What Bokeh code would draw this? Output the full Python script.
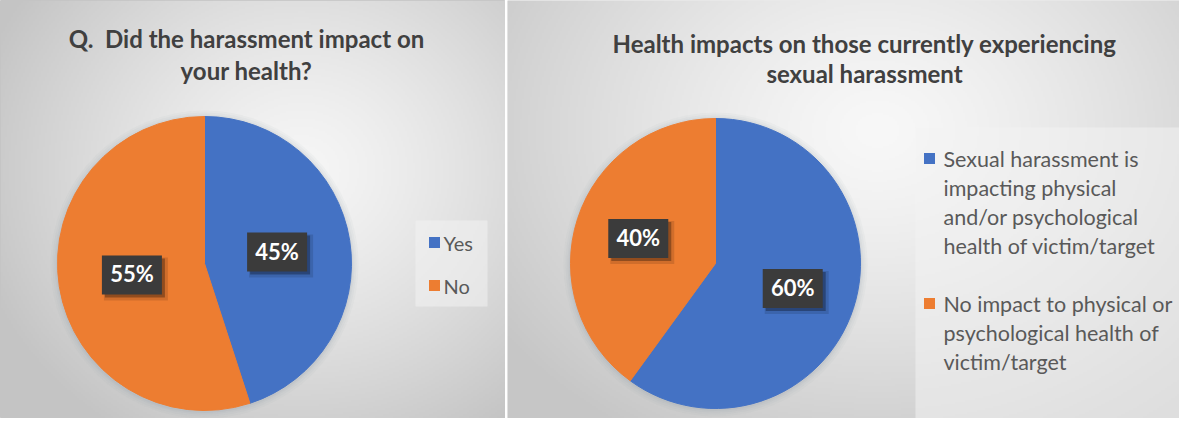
import numpy as np
from bokeh.plotting import figure
from bokeh.layouts import row
from bokeh.models import Range1d, ColumnDataSource
from bokeh.core.properties import value
from bokeh.embed import file_html
from bokeh.resources import INLINE

# ---------------- data ----------------
left_title = ["Q.\u00a0 Did the harassment impact on", "your health?"]
left_categories = ["Yes", "No"]
left_values = [45, 55]

right_title = ["Health impacts on those currently experiencing", "sexual harassment"]
right_categories = [
    ["Sexual harassment is", "impacting physical", "and/or psychological", "health of victim/target"],
    ["No impact to physical or", "psychological health of", "victim/target"],
]
right_values = [60, 40]

slice_colors = ["#4472C4", "#ED7D31"]

# ---------------- layout ----------------
H = 418
W1 = 505
GAP = 2
W2 = 672
X2 = W1 + GAP          # page x where right panel starts
FONT = "Lato"
TITLE_COLOR = "#404040"
LEGEND_TEXT = "#595959"


def fy(yref):
    return H - yref


def gradient(W, H, cx, cy, rx, ry, c_in, c_out, power=1.3, step=2):
    # cx, cy in top-down pixel coords
    w, h = W // step, H // step
    xs = (np.arange(w) + 0.5) * step
    ys = H - (np.arange(h) + 0.5) * step
    X, Y = np.meshgrid(xs, ys)
    d = np.sqrt(((X - cx) / rx) ** 2 + ((Y - cy) / ry) ** 2)
    t = np.clip(d, 0, 1) ** power
    img = np.empty((h, w), dtype=np.uint32)
    v = img.view(dtype=np.uint8).reshape((h, w, 4))
    for k in range(3):
        v[:, :, k] = (c_in[k] + (c_out[k] - c_in[k]) * t).astype(np.uint8)
    v[:, :, 3] = 255
    return img


def base_fig(W):
    p = figure(width=W, height=H, output_backend="svg", toolbar_location=None,
               x_axis_type=None, y_axis_type=None, min_border=0,
               x_range=Range1d(0, W), y_range=Range1d(0, H))
    p.outline_line_color = None
    p.border_fill_color = "#d6d6d6"
    p.background_fill_color = "#d6d6d6"
    return p


def draw_pie(p, cx, cy, r, values, colors, label_frac):
    # soft shadow halo
    for k, a in [(7, 0.05), (5, 0.06), (3, 0.08), (1.5, 0.1)]:
        p.circle(x=[cx], y=[cy - 1], radius=r + k, fill_color="#8c98a6",
                 fill_alpha=a, line_color=None)
    total = float(sum(values))
    fr = np.array(values) / total * 2 * np.pi
    ends_cum = np.cumsum(fr)
    starts = np.pi / 2 - (ends_cum - fr)
    ends = np.pi / 2 - ends_cum
    src = ColumnDataSource(dict(start=starts, end=ends, color=colors))
    p.wedge(x=cx, y=cy, radius=r, start_angle="start", end_angle="end",
            direction="clock", fill_color="color", line_color="color",
            line_width=1, source=src)
    mids = (starts + ends) / 2
    lx = cx + label_frac * r * np.cos(mids)
    ly = cy + label_frac * r * np.sin(mids)
    labels = [f"{v}%" for v in values]
    bw, bh = 60, 39
    p.rect(x=lx + 4, y=ly - 4, width=bw + 4, height=bh + 4, fill_color="black",
           fill_alpha=0.12, line_color=None)
    p.rect(x=lx + 3, y=ly - 3, width=bw, height=bh, fill_color="black",
           fill_alpha=0.3, line_color=None)
    p.rect(x=lx, y=ly, width=bw, height=bh, fill_color="#3b3b3b",
           line_color=None)
    p.text(x=lx, y=ly + 1, text=labels, text_font=value(FONT), text_font_style="bold",
           text_font_size="22px", text_color="white", text_align="center",
           text_baseline="middle")


def draw_title(p, cx, ys, lines, size):
    p.text(x=[cx] * len(lines), y=ys, text=lines, text_font=value(FONT),
           text_font_style="bold", text_font_size=size, text_color=TITLE_COLOR,
           text_align="center", text_baseline="middle")


# ---------------- left panel ----------------
pl = base_fig(W1)
bg1 = gradient(W1, H, cx=300, cy=170, rx=340, ry=310,
               c_in=(246, 246, 246), c_out=(196, 196, 196))
pl.image_rgba(image=[bg1], x=0, y=0, dw=W1, dh=H)
pl.outline_line_color = "#c4c4c4"

draw_title(pl, 246, [fy(38), fy(70)], left_title, "24px")
draw_pie(pl, 204, fy(263), 147, left_values, slice_colors, 0.5)

# legend
pl.rect(x=(415 + 487) / 2, y=fy((220 + 306) / 2), width=72, height=86,
        fill_color="#f2f2f2", fill_alpha=0.55, line_color=None)
ly_left = [fy(242 + 43 * i) for i in range(len(left_categories))]
pl.scatter(x=[434] * len(left_categories), y=ly_left, marker="square", size=11,
           fill_color=slice_colors, line_color=None)
pl.text(x=[443] * len(left_categories), y=ly_left, text=left_categories,
        text_font=value(FONT), text_font_size="20px", text_color=LEGEND_TEXT,
        text_align="left", text_baseline="middle")

# ---------------- right panel ----------------
pr = base_fig(W2)
bg2 = gradient(W2, H, cx=370, cy=130, rx=460, ry=360,
               c_in=(248, 248, 248), c_out=(198, 198, 198))
pr.image_rgba(image=[bg2], x=0, y=0, dw=W2, dh=H)

draw_title(pr, 864 - X2, [fy(43), fy(73)], right_title, "24px")
draw_pie(pr, 715 - X2, fy(263), 145, right_values, slice_colors, 0.56)

# legend box
pr.rect(x=(915 + 1188) / 2 - X2, y=fy((127 + 422) / 2), width=273, height=295,
        fill_color="#f2f2f2", fill_alpha=0.55, line_color=None)
line_gap = 29
item_y0 = [158, 303]
pr.scatter(x=[929 - X2] * len(right_categories), y=[fy(v) for v in item_y0],
           marker="square", size=11, fill_color=slice_colors, line_color=None)
tx, ty, tt = [], [], []
for y0, lines in zip(item_y0, right_categories):
    for i, ln in enumerate(lines):
        tx.append(943 - X2)
        ty.append(fy(y0 + i * line_gap))
        tt.append(ln)
pr.text(x=tx, y=ty, text=tt, text_font=value(FONT), text_font_size="21.5px",
        text_color=LEGEND_TEXT, text_align="left", text_baseline="middle")

layout = row(pl, pr, spacing=GAP)
open("out.html", "w").write(file_html(layout, INLINE))
